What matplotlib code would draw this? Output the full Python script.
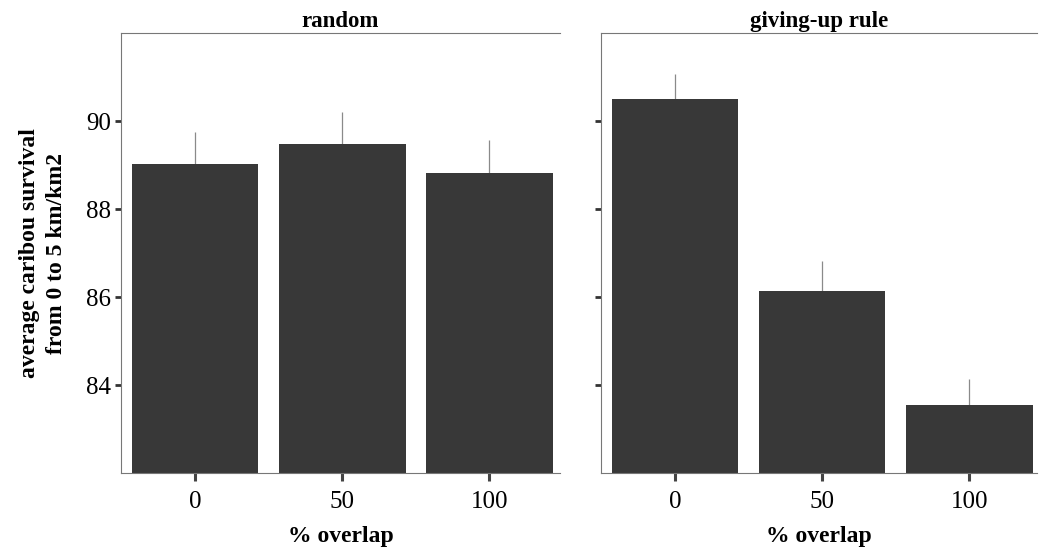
"""
Caribou survival by % overlap - random vs giving-up rule
"""
import numpy as np
import matplotlib.pyplot as plt

overlap = ['0', '50', '100']
random_vals = [89.03, 89.47, 88.83]
random_err = [0.72, 0.73, 0.74]
giving_vals = [90.50, 86.14, 83.54]
giving_err = [0.57, 0.68, 0.60]
panel_titles = ['random', 'giving-up rule']
yticks = [84, 86, 88, 90]

plt.rcParams['font.family'] = 'Liberation Serif'

fig = plt.figure(figsize=(10.39, 5.55), dpi=100)
ax1 = fig.add_axes([0.1165, 0.1477, 0.4225, 0.7928])
ax2 = fig.add_axes([0.5784, 0.1477, 0.4196, 0.7928])

bar_color = '#383838'
x = np.arange(len(overlap))

for ax, vals, errs, title, xmax in [(ax1, random_vals, random_err, panel_titles[0], 2.48),
                                    (ax2, giving_vals, giving_err, panel_titles[1], 2.46)]:
    ax.bar(x, np.array(vals) - 82, bottom=82, width=0.86, color=bar_color,
           edgecolor='none', zorder=2)
    ax.errorbar(x, vals, yerr=[np.zeros(len(errs)), errs], fmt='none',
                ecolor='#8a8a8a', elinewidth=0.9, capsize=0, zorder=1)
    ax.set_xlim(-0.503, xmax)
    ax.set_ylim(82, 92)
    ax.set_xticks(x)
    ax.set_xticklabels(overlap, fontsize=18)
    ax.set_yticks(yticks)
    ax.set_title(title, fontsize=16.5, fontweight='bold', pad=4)
    ax.set_xlabel('% overlap', fontsize=17, fontweight='bold', labelpad=9)
    ax.tick_params(axis='x', direction='out', length=6, width=2.2,
                   color='#444444', pad=7)
    ax.tick_params(axis='y', direction='out', length=4, width=2,
                   color='#333333', pad=3)
    for side in ['left', 'top', 'bottom']:
        ax.spines[side].set_linewidth(0.8)
        ax.spines[side].set_color('#777777')
    ax.spines['right'].set_visible(False)

ax1.set_yticklabels([str(t) for t in yticks], fontsize=18)
ax2.set_yticklabels([])
ax1.set_ylabel('average caribou survival\nfrom 0 to 5 km/km2', fontsize=17,
               fontweight='bold', labelpad=14, linespacing=1.35)

fig.savefig('out.png', dpi=100)
